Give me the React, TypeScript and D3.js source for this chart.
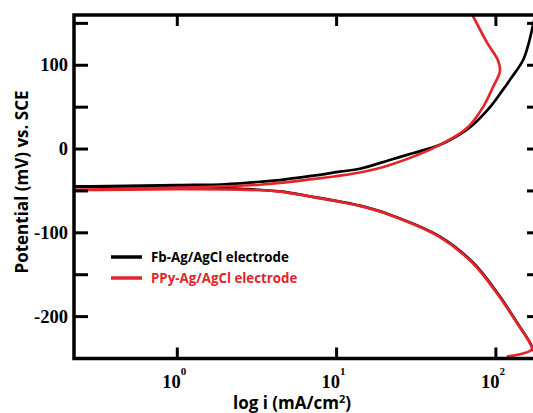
import React from "react";
import * as d3 from "d3";

const W = 533;
const H = 413;

// Fb-Ag/AgCl: cathodic branch (right -> left), then anodic branch (left -> right)
const fbCathI = [182, 172, 163.6, 135.6, 106, 71.8, 44.6, 21.6, 14, 10.5, 7.1, 4.4, 2.5, 1.0, 0.2];
const fbCathE = [-252, -240, -231, -207, -176, -135.5, -104.5, -78.3, -67.6, -62.8, -57, -50.5, -47.5, -45, -45];
const fbAnodI = [0.2, 1.0, 2.0, 3.3, 4.4, 7, 10.5, 14, 21.6, 30, 44.6, 60, 71.8, 91.8, 110, 125, 148, 160, 172, 180];
const fbAnodE = [-45, -43, -42, -39, -37, -32, -27, -23.5, -13, -5, 5, 18, 29, 50, 70, 85, 106, 125, 150, 165];

// PPy-Ag/AgCl
const ppyCathI = [117, 141.6, 168, 163, 135, 105, 71, 44, 21.4, 13.8, 10.4, 7.0, 4.3, 2.5, 1.0, 0.2];
const ppyCathE = [-247.6, -245, -239, -231, -207, -176, -135.5, -104.5, -78.3, -67.6, -62.8, -57, -50.5, -48.5, -48, -49];
const ppyAnodI = [0.2, 1.04, 3.3, 7, 14, 21.6, 44.6, 65.8, 83, 95.9, 106, 103, 88, 72, 68];
const ppyAnodE = [-49, -46, -42.6, -36, -28, -19, 5, 25, 50, 74, 93, 106, 127, 158, 166];

const yTicks = [-250, -200, -150, -100, -50, 0, 50, 100, 150];
const yLabels = [-200, -100, 0, 100];
const xTicks = [1, 10, 100];
const xExps = ["0", "1", "2"];

const legendNames = ["Fb-Ag/AgCl electrode", "PPy-Ag/AgCl electrode"];
const colors = ["#000000", "#e3242b"];

const left = 74;
const right = 541;
const top = 15;
const bottom = 358.5;

export default function App() {
  const x = d3.scaleLog().domain([10 ** ((left - 177.3) / 159.3), 10 ** ((right - 177.3) / 159.3)]).range([left, right]);
  const y = d3.scaleLinear().domain([-250, 160]).range([bottom, top]);

  const mk = (is: number[], es: number[]) => is.map((v, k) => [v, es[k]] as [number, number]);
  const line = d3
    .line<[number, number]>()
    .x((d) => x(d[0]))
    .y((d) => y(d[1]))
    .curve(d3.curveCatmullRom.alpha(0.5));

  const series = [
    [mk(fbCathI, fbCathE), mk(fbAnodI, fbAnodE)],
    [mk(ppyCathI, ppyCathE), mk(ppyAnodI, ppyAnodE)],
  ];

  return (
    <svg width={W} height={H} style={{ position: "absolute", left: 0, top: 0, background: "#fff" }}>
      <defs>
        <clipPath id="plot">
          <rect x={left} y={top} width={right - left} height={bottom - top} />
        </clipPath>
      </defs>
      <g clipPath="url(#plot)" fill="none">
        {series.map((s, si) =>
          s.map((seg, k) => (
            <path key={si + "-" + k} d={line(seg) || ""} stroke={colors[si]} strokeWidth={2.7} strokeLinejoin="round" />
          ))
        )}
      </g>
      {/* frame */}
      <rect x={left} y={top} width={right - left} height={bottom - top} fill="none" stroke="#000" strokeWidth={3.5} />
      {/* y ticks */}
      {yTicks.map((t) => (
        <g key={"y" + t}>
          <line x1={left} x2={left + 14} y1={y(t)} y2={y(t)} stroke="#000" strokeWidth={3} />
          <line x1={right - 14} x2={right} y1={y(t)} y2={y(t)} stroke="#000" strokeWidth={3} />
        </g>
      ))}
      {yLabels.map((t) => (
        <text
          key={"yl" + t}
          x={68}
          y={y(t) + 6}
          textAnchor="end"
          fontFamily="'Liberation Serif', 'DejaVu Serif', serif"
          fontWeight="bold"
          fontSize={18.5}
        >
          {t}
        </text>
      ))}
      {/* x ticks */}
      {xTicks.map((t, k) => (
        <g key={"x" + t}>
          <line x1={x(t)} x2={x(t)} y1={bottom} y2={bottom - 11} stroke="#000" strokeWidth={3} />
          <line x1={x(t)} x2={x(t)} y1={top} y2={top + 11} stroke="#000" strokeWidth={3} />
          <text
            x={x(t) - 3}
            y={388}
            textAnchor="middle"
            fontFamily="'Liberation Serif', 'DejaVu Serif', serif"
            fontWeight="bold"
            fontSize={18.5}
          >
            10
            <tspan dy={-13} fontSize={11}>
              {xExps[k]}
            </tspan>
          </text>
        </g>
      ))}
      {/* axis titles */}
      <text
        x={292}
        y={409}
        textAnchor="middle"
        fontFamily="'Open Sans', 'Noto Sans', sans-serif"
        fontWeight="bold"
        fontSize={17}
      >
        log i (mA/cm
        <tspan dy={-6} fontSize={11}>
          2
        </tspan>
        <tspan dy={6}>)</tspan>
      </text>
      <text
        transform={`translate(28,182) rotate(-90)`}
        textAnchor="middle"
        fontFamily="'Open Sans', 'Noto Sans', sans-serif"
        fontWeight="bold"
        fontSize={17}
      >
        Potential (mV) vs. SCE
      </text>
      {/* legend */}
      {legendNames.map((n, k) => (
        <g key={n}>
          <line x1={111} x2={142} y1={257 + k * 21} y2={257 + k * 21} stroke={colors[k]} strokeWidth={3.5} />
          <text
            x={151}
            y={262 + k * 21}
            fill={colors[k]}
            fontFamily="'Open Sans', 'Noto Sans', sans-serif"
            fontWeight="bold"
            fontSize={13.3}
          >
            {n}
          </text>
        </g>
      ))}
    </svg>
  );
}
